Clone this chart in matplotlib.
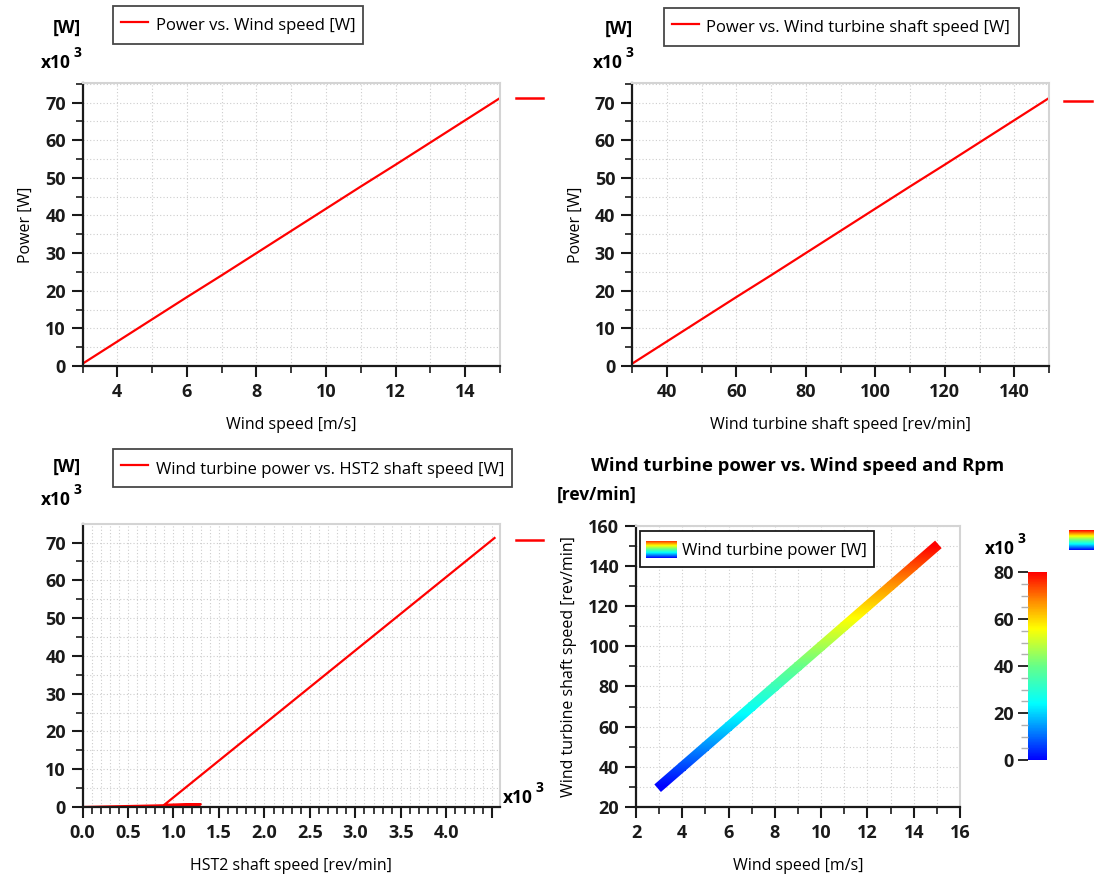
import numpy as np
import matplotlib
matplotlib.use("Agg")
import matplotlib.pyplot as plt
from matplotlib.lines import Line2D
from matplotlib.patches import Rectangle
from matplotlib.path import Path
from matplotlib.transforms import IdentityTransform
from matplotlib.ticker import MultipleLocator, FuncFormatter
from matplotlib.colors import Normalize, LinearSegmentedColormap
import matplotlib.cm as cm

plt.rcParams['font.family'] = ['Open Sans', 'DejaVu Sans']

# ---------------- data ----------------
wind_speed = [3, 4, 5, 6, 7, 8, 9, 10, 11, 12, 13, 14, 15]                      # m/s
shaft_speed = [30, 40, 50, 60, 70, 80, 90, 100, 110, 120, 130, 140, 150]         # rev/min
power = [600, 6500, 12400, 18300, 24100, 30000, 35900, 41800, 47700, 53500,
         59400, 65300, 71200]                                                    # W
hst2_speed = [0, 800, 1300, 900, 4530]                                           # rev/min
hst2_power = [0, 400, 700, 600, 71200]                                           # W

W, H = 1094, 876
fig = plt.figure(figsize=(W / 100, H / 100), dpi=100)

def fx(px):
    return px / W

def fy(py):
    return 1 - py / H

TICK_FS = 13
LABEL_FS = 11.5
GRID_C = '#cdcdcd'
FRAME_C = '#d4d4d4'
RED = '#ff0000'

cmap = LinearSegmentedColormap.from_list(
    'rainbow_ref',
    [(0.0, '#0000ff'), (0.3, '#00ffff'), (0.5, '#66ff88'), (0.7, '#ffff00'),
     (0.85, '#ff8800'), (1.0, '#ff0000')])

def style_axes(ax):
    for s in ['top', 'right']:
        ax.spines[s].set_color(FRAME_C)
        ax.spines[s].set_linewidth(1.5)
    for s in ['left', 'bottom']:
        ax.spines[s].set_color('#1a1a1a')
        ax.spines[s].set_linewidth(1.6)
    ax.tick_params(which='major', direction='out', length=8, width=1.5,
                   labelsize=TICK_FS, colors='#1a1a1a', pad=4)
    ax.tick_params(which='minor', direction='out', length=5, width=1.2, colors='#1a1a1a')
    for lab in ax.get_xticklabels() + ax.get_yticklabels():
        lab.set_fontweight('bold')
    ax.grid(True, which='both', color=GRID_C, linestyle=(0, (1, 2)), linewidth=0.8)
    ax.set_axisbelow(True)

kfmt = FuncFormatter(lambda v, p: f"{v/1000:g}")
kfmt1 = FuncFormatter(lambda v, p: f"{v/1000:.1f}" if v <= 4200 else "")

def unit_labels(x_right, y_unit, y_mult):
    fig.text(fx(x_right), fy(y_unit), "[W]", ha='right', va='center',
             fontsize=12.5, fontweight='bold')
    fig.text(fx(x_right - 10), fy(y_mult), "x10", ha='right', va='center',
             fontsize=12.5, fontweight='bold')
    fig.text(fx(x_right - 8), fy(y_mult - 10), "3", ha='left', va='center',
             fontsize=10, fontweight='bold')

def legend_at(handles, labels, x, y):
    leg = fig.legend(handles, labels, loc='upper left',
                     bbox_to_anchor=(fx(x), fy(y)), borderaxespad=0,
                     fontsize=12, frameon=True, fancybox=False,
                     handlelength=1.6, handleheight=1.6, handletextpad=0.45,
                     borderpad=0.5)
    leg.get_frame().set_edgecolor('#1a1a1a')
    leg.get_frame().set_linewidth(1.3)
    return leg

# ---------------- top-left ----------------
ax1 = fig.add_axes([fx(82.5), fy(366), fx(500 - 82.5), fy(83) - fy(366)])
ax1.plot(wind_speed, power, color=RED, lw=1.6)
ax1.set_xlim(3, 15)
ax1.set_ylim(0, 75200)
ax1.xaxis.set_minor_locator(MultipleLocator(1))
ax1.set_xticks([4, 6, 8, 10, 12, 14])
ax1.yaxis.set_major_locator(MultipleLocator(10000))
ax1.yaxis.set_minor_locator(MultipleLocator(5000))
ax1.yaxis.set_major_formatter(kfmt)
ax1.set_xlabel("Wind speed [m/s]", fontsize=LABEL_FS, labelpad=12)
ax1.set_ylabel("Power [W]", fontsize=LABEL_FS, labelpad=8)
style_axes(ax1)
unit_labels(81, 28, 63)
legend_at([Line2D([], [], color=RED, lw=1.6)], ["Power vs. Wind speed [W]"], 113, 6)
fig.add_artist(Line2D([fx(516), fx(543)], [fy(98), fy(98)], color=RED, lw=1.8))

# ---------------- top-right ----------------
ax2 = fig.add_axes([fx(632), fy(366), fx(1049 - 632), fy(83) - fy(366)])
ax2.plot(shaft_speed, power, color=RED, lw=1.6)
ax2.set_xlim(30, 150)
ax2.set_ylim(0, 75200)
ax2.xaxis.set_minor_locator(MultipleLocator(10))
ax2.set_xticks([40, 60, 80, 100, 120, 140])
ax2.yaxis.set_major_locator(MultipleLocator(10000))
ax2.yaxis.set_minor_locator(MultipleLocator(5000))
ax2.yaxis.set_major_formatter(kfmt)
ax2.set_xlabel("Wind turbine shaft speed [rev/min]", fontsize=LABEL_FS, labelpad=12)
ax2.set_ylabel("Power [W]", fontsize=LABEL_FS, labelpad=8)
style_axes(ax2)
unit_labels(633, 29, 63)
legend_at([Line2D([], [], color=RED, lw=1.6)],
          ["Power vs. Wind turbine shaft speed [W]"], 664, 8)
fig.add_artist(Line2D([fx(1064), fx(1092)], [fy(101), fy(101)], color=RED, lw=1.8))

# ---------------- bottom-left ----------------
ax3 = fig.add_axes([fx(82.5), fy(807), fx(500 - 82.5), fy(524) - fy(807)])
ax3.plot(hst2_speed, hst2_power, color=RED, lw=1.6)
ax3.set_xlim(0, 4590)
ax3.set_ylim(0, 74900)
ax3.xaxis.set_major_locator(MultipleLocator(500))
ax3.xaxis.set_minor_locator(MultipleLocator(100))
ax3.xaxis.set_major_formatter(kfmt1)
ax3.yaxis.set_major_locator(MultipleLocator(10000))
ax3.yaxis.set_minor_locator(MultipleLocator(5000))
ax3.yaxis.set_major_formatter(kfmt)
ax3.set_xlabel("HST2 shaft speed [rev/min]", fontsize=LABEL_FS, labelpad=12)
style_axes(ax3)
unit_labels(81, 467, 500)
legend_at([Line2D([], [], color=RED, lw=1.6)],
          ["Wind turbine power vs. HST2 shaft speed [W]"], 113, 449)
fig.add_artist(Line2D([fx(516), fx(543)], [fy(540), fy(540)], color=RED, lw=1.8))
fig.text(fx(533), fy(798), "x10", ha='right', va='center', fontsize=12.5, fontweight='bold')
fig.text(fx(535), fy(788), "3", ha='left', va='center', fontsize=10, fontweight='bold')

# ---------------- bottom-right ----------------
ax4 = fig.add_axes([fx(636), fy(807), fx(960 - 636), fy(525.6) - fy(807)])
ax4.set_xlim(2, 16)
ax4.set_ylim(20, 160)
ax4.xaxis.set_major_locator(MultipleLocator(2))
ax4.xaxis.set_minor_locator(MultipleLocator(1))
ax4.yaxis.set_major_locator(MultipleLocator(20))
ax4.yaxis.set_minor_locator(MultipleLocator(10))
ax4.set_xlabel("Wind speed [m/s]", fontsize=LABEL_FS, labelpad=12)
ax4.set_ylabel("Wind turbine shaft speed [rev/min]", fontsize=LABEL_FS, labelpad=8)
style_axes(ax4)
ax4.set_title("Wind turbine power vs. Wind speed and Rpm", fontsize=13.3,
              fontweight='bold', pad=39)
fig.text(fx(557), fy(495), "[rev/min]", ha='left', va='center', fontsize=12.5, fontweight='bold')

norm = Normalize(0, 80000)
line_norm = Normalize(min(power), max(power))

# thick gradient line: colour field along shaft speed, clipped to the stroke
P = ax4.transData.transform(np.column_stack([wind_speed, shaft_speed]))
hw, ext = 5.0, 2.0
verts, codes = [], []
for i in range(len(P) - 1):
    p0, p1 = P[i], P[i + 1]
    d = (p1 - p0) / np.linalg.norm(p1 - p0)
    n = np.array([-d[1], d[0]])
    e0 = ext if i == 0 else 0.5
    e1 = ext if i == len(P) - 2 else 0.5
    quad = [p0 + n * hw - d * e0, p1 + n * hw + d * e1,
            p1 - n * hw + d * e1, p0 - n * hw - d * e0, p0 + n * hw - d * e0]
    verts += quad
    codes += [Path.MOVETO, Path.LINETO, Path.LINETO, Path.LINETO, Path.CLOSEPOLY]
clip = matplotlib.patches.PathPatch(Path(verts, codes), transform=IdentityTransform(),
                                    facecolor='none', edgecolor='none')
ax4.add_patch(clip)
yy = np.linspace(20, 160, 600)
field = np.interp(yy, shaft_speed, power)[:, None]
im = ax4.imshow(field, extent=(2, 16, 20, 160), origin='lower', aspect='auto',
                cmap=cmap, norm=line_norm, interpolation='bilinear', zorder=3)
im.set_clip_path(clip)

leg4 = ax4.legend([Rectangle((0, 0), 1, 1, facecolor='none', edgecolor='none')],
                  ["Wind turbine power [W]"], loc='upper left',
                  bbox_to_anchor=(4 / (960 - 636), 1 - (531 - 525.6) / (807 - 525.6)),
                  borderaxespad=0, fontsize=12, frameon=True, fancybox=False,
                  handlelength=1.6, handleheight=1.6, handletextpad=0.45,
                  borderpad=0.45, framealpha=1)
leg4.get_frame().set_edgecolor('#1a1a1a')
leg4.get_frame().set_linewidth(1.3)

grad = np.linspace(0, 1, 64)[:, None]

def swatch(x0, y0, x1, y1):
    a = fig.add_axes([fx(x0), fy(y1), fx(x1 - x0), fy(y0) - fy(y1)], zorder=10)
    a.imshow(grad, cmap=cmap, origin='lower', aspect='auto', extent=(0, 1, 0, 1))
    a.set_axis_off()

swatch(646, 541, 677, 558)
swatch(1069, 530, 1094, 550)

# colorbar
cax = fig.add_axes([fx(1028), fy(760), fx(1047 - 1028), fy(572) - fy(760)])
cb = fig.colorbar(cm.ScalarMappable(norm=norm, cmap=cmap), cax=cax)
cb.outline.set_visible(False)
cax.yaxis.set_ticks_position('left')
cax.yaxis.set_label_position('left')
cb.set_ticks([0, 20000, 40000, 60000, 80000])
cax.yaxis.set_major_formatter(kfmt)
cax.yaxis.set_minor_locator(MultipleLocator(5000))
cax.tick_params(which='major', length=7, width=1.3, labelsize=TICK_FS, colors='#1a1a1a', pad=3)
cax.tick_params(which='minor', length=5, width=1.0, colors='#b0b0b0')
for lab in cax.get_yticklabels():
    lab.set_fontweight('bold')
fig.text(fx(1015), fy(549), "x10", ha='right', va='center', fontsize=12.5, fontweight='bold')
fig.text(fx(1017), fy(539), "3", ha='left', va='center', fontsize=10, fontweight='bold')

fig.savefig("out.png", dpi=100)
